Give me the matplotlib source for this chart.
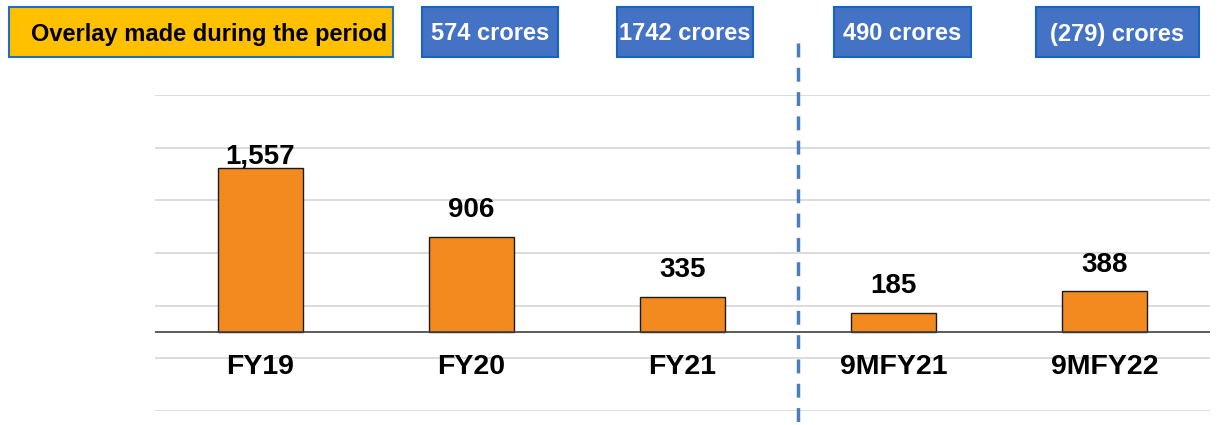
import matplotlib as mpl
mpl.use('Agg')
import matplotlib.pyplot as plt
import matplotlib.transforms as mtransforms
from matplotlib.patches import Rectangle

plt.rcParams['font.family'] = ['Liberation Sans', 'DejaVu Sans']
plt.rcParams['font.weight'] = 'bold'

# data
categories = ["FY19", "FY20", "FY21", "9MFY21", "9MFY22"]
values = [1557, 906, 335, 185, 388]
value_labels = ["1,557", "906", "335", "185", "388"]
overlay_title = "Overlay made during the period"
overlay_labels = ["574 crores", "1742 crores", "490 crores", "(279) crores"]

W, H = 1228, 425
fig = plt.figure(figsize=(W / 100, H / 100), dpi=100)
fig.patch.set_facecolor('white')

# plot area in pixels
left, right, top, bottom = 155, 1210, 95, 411
ax = fig.add_axes([left / W, 1 - bottom / H, (right - left) / W, (bottom - top) / H])

x = list(range(len(categories)))
ax.bar(x, values, width=0.4, color='#F28A1F', edgecolor='#1a1a1a', linewidth=1, zorder=3)
ax.set_xlim(-0.5, len(categories) - 0.5)
ax.set_ylim(-750, 2250)
ax.set_yticks([-750, -250, 250, 750, 1250, 1750, 2250])
ax.yaxis.grid(True, color='#D9D9D9', linewidth=1.3, zorder=0)
ax.axhline(0, color='#404040', linewidth=1.2, zorder=4)
ax.tick_params(left=False, bottom=False, labelleft=False, labelbottom=False)
for s in ax.spines.values():
    s.set_visible(False)

for i, (v, lab) in enumerate(zip(values, value_labels)):
    off = 8 if v == max(values) else 19
    ax.annotate(lab, (i, v), xytext=(0, off), textcoords='offset points',
                ha='center', va='center', fontsize=20, fontweight='bold', color='black', zorder=5)

trans = mtransforms.blended_transform_factory(ax.transData, ax.transAxes)
for i, c in enumerate(categories):
    ax.text(i, 0.14, c, transform=trans, ha='center', va='center',
            fontsize=20.5, fontweight='bold', color='black')

# dashed separator
ax.plot([2.547, 2.547], [(bottom - 43) / (bottom - top), -(H - bottom) / (bottom - top)],
        transform=trans, clip_on=False, color='#4A7EBB', linewidth=2.5,
        linestyle=(0, (4, 3)), zorder=6)

# header boxes (pixels: x0, x1)
box_y0, box_y1 = 7, 57
def draw_box(x0, x1, text, face, edge, tcolor, dx=0):
    r = Rectangle((x0 / W, 1 - box_y1 / H), (x1 - x0) / W, (box_y1 - box_y0) / H,
                  transform=fig.transFigure, facecolor=face, edgecolor=edge, linewidth=1.5)
    fig.patches.append(r)
    fig.text(((x0 + x1) / 2 + dx) / W, 1 - ((box_y0 + box_y1) / 2 + 2) / H, text,
             ha='center', va='center', fontsize=17, fontweight='bold', color=tcolor)

draw_box(9, 393, overlay_title, '#FFC000', '#1F6FC5', 'black', dx=8)
for (x0, x1), lab in zip([(422, 558), (617, 753), (834, 971), (1036, 1199)], overlay_labels):
    draw_box(x0, x1, lab, '#4472C4', '#1565C0', 'white')

fig.savefig('out.png', dpi=100, facecolor='white')
